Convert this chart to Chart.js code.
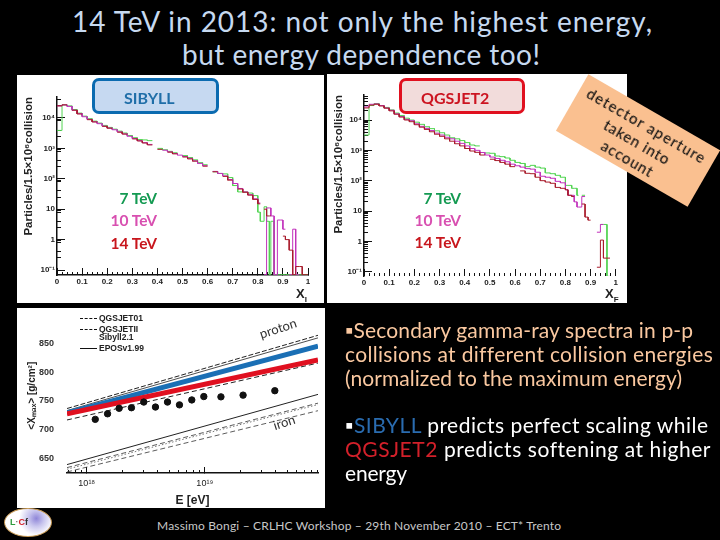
<!DOCTYPE html>
<html>
<head>
<meta charset="utf-8">
<script src="https://cdn.jsdelivr.net/npm/chart.js@4/dist/chart.umd.js"></script>
<style>
html, body { margin: 0; padding: 0; background: #000; }
body { position: relative; width: 720px; height: 540px; overflow: hidden; font-family: Lato, sans-serif; }
canvas { position: absolute; background: #fff; filter: blur(0.35px); }
.t { position: absolute; white-space: nowrap; line-height: 1; }
.title { color: #c6d9f0; font-size: 28px; }
.body1 { color: #fac8a0; font-size: 21px; left: 345px; }
.body2 { color: #fff; font-size: 21px; left: 345px; }
.box { position: absolute; box-sizing: border-box; border-radius: 7px; border-width: 3px; border-style: solid; top: 78px; height: 36px; }
.tag { font-family: Lato, sans-serif; font-weight: 700; font-size: 15.5px; text-align: right; }
.model { font-weight: 700; font-size: 16px; }
.plotlabel { font-family: "Liberation Sans", sans-serif; color: #222; font-weight: 700; }
.leg { font-family: "Liberation Sans", sans-serif; font-weight: 700; font-size: 8.5px; color: #222; }
.swatch { position: absolute; width: 17px; border-top: 1px dashed #111; }
#note { position: absolute; left: 562px; top: 108px; width: 152px; height: 65px; background: #fac090; transform: rotate(30deg); }
#note div { position: absolute; width: 100%; text-align: center; color: #111; font-size: 15px; font-weight: 500; line-height: 1; white-space: nowrap; }
#logo { position: absolute; left: 4px; top: 508px; width: 48px; height: 29px; box-sizing: border-box; border-radius: 50%; border: 1.5px solid #c79a55; background: radial-gradient(circle at 68% 35%, #8f86d8 0, #c9c6ee 22%, #fff 48%); font: 700 9px "Liberation Sans", sans-serif; line-height: 26px; padding-left: 5px; }
</style>
</head>
<body>
<div class="t title fit" data-w="580" style="left:72px;top:7px">14 TeV in 2013: not only the highest energy,</div>
<div class="t title fit" data-w="358" style="left:182px;top:40px">but energy dependence too!</div>

<canvas id="sibyllChart" width="307" height="228" style="left:17px;top:75px"></canvas>
<canvas id="qgsjetChart" width="300" height="229" style="left:327px;top:74px"></canvas>
<canvas id="xmaxChart" width="308" height="200" style="left:17px;top:308px"></canvas>

<div class="box" style="left:92px;width:127px;background:#c6d9f1;border-color:#0b6bb0"></div>
<div class="t model" style="left:124px;top:90px;color:#1f6ea8">SIBYLL</div>
<div class="box" style="left:399px;width:126px;background:#f2dcdb;border-color:#e0101f"></div>
<div class="t model" style="left:421px;top:90px;color:#cc1420">QGSJET2</div>

<div class="t tag" style="left:97px;width:60px;top:191px;color:#149a52">7 TeV</div>
<div class="t tag" style="left:97px;width:60px;top:213px;color:#d84fb0">10 TeV</div>
<div class="t tag" style="left:97px;width:60px;top:236px;color:#c8161d">14 TeV</div>
<div class="t tag" style="left:401px;width:60px;top:191px;color:#149a52">7 TeV</div>
<div class="t tag" style="left:401px;width:60px;top:213px;color:#d84fb0">10 TeV</div>
<div class="t tag" style="left:401px;width:60px;top:235px;color:#c8161d">14 TeV</div>

<div class="t plotlabel" style="left:296px;top:287px;font-size:13px">X<sub style="font-size:8px">I</sub></div>
<div class="t plotlabel" style="left:605px;top:287px;font-size:13px">X<sub style="font-size:8px">F</sub></div>

<div id="note">
  <div class="fit" data-w="134" style="top:8px;left:0">detector aperture</div>
  <div style="top:27px;left:0;letter-spacing:.8px">taken into</div>
  <div style="top:46px;left:0;letter-spacing:.8px">account</div>
</div>

<div class="swatch" style="left:80px;top:318px"></div>
<div class="swatch" style="left:80px;top:329px"></div>
<div class="swatch" style="left:80px;top:348px;border-top-style:solid"></div>
<div class="t leg" style="left:99px;top:314px">QGSJET01</div>
<div class="t leg" style="left:99px;top:325px">QGSJETII</div>
<div class="t leg" style="left:99px;top:333px">Sibyll2.1</div>
<div class="t leg" style="left:99px;top:344px">EPOSv1.99</div>
<div class="t" style="left:259px;top:322px;font-size:13px;color:#333;transform:rotate(-18deg)">proton</div>
<div class="t" style="left:273px;top:416px;font-size:13px;color:#333;transform:rotate(-18deg)">iron</div>

<div class="t body1 fit" data-w="348" style="top:319px">▪Secondary gamma-ray spectra in p-p</div>
<div class="t body1 fit" data-w="367" style="top:343px">collisions at different collision energies</div>
<div class="t body1 fit" data-w="337" style="top:367px">(normalized to the maximum energy)</div>
<div class="t body2 fit" data-w="363" style="top:414px">▪<span style="color:#2a6cb0">SIBYLL</span> predicts perfect scaling while</div>
<div class="t body2 fit" data-w="365" style="top:438px"><span style="color:#d3202a">QGSJET2</span> predicts softening at higher</div>
<div class="t body2 fit" data-w="62" style="top:462px">energy</div>
<div class="t fit" data-w="404" style="left:157px;top:520px;color:#c8c8c8;font-size:12px">Massimo Bongi – CRLHC Workshop – 29th November 2010 – ECT* Trento</div>

<div id="logo"><span style="color:#2e9a3c">L</span><span style="color:#777">·</span><span style="color:#d3202a">C</span><span style="color:#333">f</span></div>

<script>
// histogram bin edges shared by the two spectra
const binEdges = [0, 0.02, 0.04, 0.06, 0.08, 0.1, 0.12, 0.14, 0.16, 0.18, 0.2, 0.22, 0.24, 0.26, 0.28, 0.3, 0.32, 0.34, 0.36, 0.38,
    0.4, 0.42, 0.44, 0.46, 0.48, 0.5, 0.52, 0.54, 0.56, 0.58, 0.6, 0.62, 0.64, 0.66, 0.68, 0.7, 0.72, 0.74, 0.76, 0.78, 0.8,
    0.81, 0.825, 0.835, 0.846, 0.852, 0.865, 0.878, 0.89, 0.9, 0.91, 0.925, 0.939, 0.951, 0.965, 0.977, 1];

// SIBYLL (0.07 = empty bin, on the axis line)
const sibyll7 = [3900, 27000, 25000, 19000, 14500, 11500, 9500, 7900, 6800, 5700, 4900, 4300, 3700, 3200, 2650, 2250, 1950, 1900, 1800, null,
    1000, 900, 800, 720, null, 580, 500, 420, 340, 290, null, 170, 150, 145, 110, 60, 37, 37, 34, 28,
    8, 4, 12, 4, 0.07, 4, 0.07, 0.07, 0.07, 0.07, 0.07, 0.07, 0.07, 0.07, 0.07, 0.07];
const sibyll10 = [25000, 27000, 24000, 18000, 14000, 11000, 9000, 7500, 6500, 5400, 4700, 4100, 3500, 3000, 2500, 2100, 1800, 1550, 1350, null,
    null, 870, 770, 680, 600, 540, 470, 390, 320, 270, null, 175, 150, 125, 95, 70, 48, 37, 30, 22,
    16, null, 0.07, 11, 11, 6, 0.07, 4.4, 4.4, 2.2, null, 0.07, 2.2, 0.07, null, null];
const sibyll14 = [25000, 27000, null, 18000, 13500, null, 8800, 7400, null, 5300, 4600, null, 3400, 2950, null, 2050, 1750, 1500, 1300, null,
    930, null, 750, 660, null, 520, 450, 380, null, 260, null, 170, null, 120, 90, null, 46, 36, 29, 21,
    15, null, 10, 6, 6, null, null, null, null, 1.3, 1, 0.45, 0.07, 0.13, 0.13, 0.07];

// QGSJET2
const qgsjet7 = [3200, 30000, 35000, 30000, 26000, 21500, 17000, 14000, 11500, 10000, 8500, 7200, 6000, 5200, 4400, 3800, 3200, 2600, 2400, 2100,
    1800, 1500, 1400, null, 820, 800, 650, 620, 560, 470, 400, 370, 290, 320, 280, 260, 180, 170, 150, 130,
    70, 70, 56, 56, 33, null, 33, null, null, null, null, null, 3.6, 3.6, 0.07, null];
const qgsjet10 = [27000, 33000, 34000, 30000, 25000, 21000, 16000, 13000, 10500, 9500, 7500, 6200, 5300, 4500, 3700, 3200, 2700, 2400, 2000, 1700,
    1400, 1150, 1000, 850, 700, 600, 540, 470, 420, 350, 310, 280, 250, 240, 190, 140, 130, 120, 95, 85,
    50, 33, 33, 20, 13.5, 13.5, 30, null, null, null, null, 2, 3.6, null, null, null];
const qgsjet14 = [25000, 31000, 33000, 29000, 24500, 20000, 15500, 12500, 10000, 8800, 7000, 5800, 4900, 4100, 3400, 2900, 2400, 2000, 1650, 1400,
    1150, 950, 860, 700, null, 510, 460, 400, 350, 290, null, 210, 175, 170, 130, 100, 90, 82, 60, 56,
    50, 33, 30, null, null, null, 17, 6.3, 5, null, null, 0.14, 1.1, 0.28, 0.28, null];

// axis ticks of the spectra
const xMajor = [0, 0.1, 0.2, 0.3, 0.4, 0.5, 0.6, 0.7, 0.8, 0.9, 1];
const xMinor = [0.02, 0.04, 0.06, 0.08, 0.12, 0.14, 0.16, 0.18, 0.22, 0.24, 0.26, 0.28, 0.32, 0.34, 0.36, 0.38, 0.42, 0.44, 0.46, 0.48,
    0.52, 0.54, 0.56, 0.58, 0.62, 0.64, 0.66, 0.68, 0.72, 0.74, 0.76, 0.78, 0.82, 0.84, 0.86, 0.88, 0.92, 0.94, 0.96, 0.98];
const yMajor = [0.1, 1, 10, 100, 1000, 10000];
const yMajorLabels = ['10⁻¹', '1', '10', '10²', '10³', '10⁴'];
const yMinorSparse = [0.25, 0.4, 0.8, 0.9, 2.5, 4, 8, 9, 25, 40, 80, 90, 250, 400, 800, 900, 2500, 4000, 8000, 9000, 25000, 40000];
const yMinorFull = [0.2, 0.3, 0.4, 0.5, 0.6, 0.7, 0.8, 0.9, 2, 3, 4, 5, 6, 7, 8, 9, 20, 30, 40, 50, 60, 70, 80, 90, 200, 300, 400, 500, 600, 700, 800, 900,
    2000, 3000, 4000, 5000, 6000, 7000, 8000, 9000, 20000, 30000, 40000, 50000, 60000];

// Xmax panel
const lineEnergy = [6.8e17, 9.1e19];
const protonDash = [736.6, 864.5];
const protonSolid = [733, 860];
const protonLow = [716.6, 816];
const sibyllBand = [729, 845.7];
const qgsjetBand = [727.4, 821.5];
const ironSolid = [638.7, 761.3];
const ironDash = [633.4, 746];
const ironDot = [630.6, 743.5];
const ironLow = [625.8, 732.8];
const dataEnergy = [1.18e18, 1.5e18, 1.88e18, 2.39e18, 3.04e18, 3.82e18, 4.83e18, 6.1e18, 7.76e18, 9.81e18, 1.37e19, 2.11e19, 3.92e19];
const dataXmax = [717.7, 727.4, 737, 738, 747.9, 739.2, 747.9, 743, 751.6, 757.5, 757, 760, 767.7];
const xmaxTicks = [650, 700, 750, 800, 850];
const energyMajor = [1e18, 1e19];
const energyLabels = ['10¹⁸', '10¹⁹'];
const energyMinor = [7e17, 8e17, 9e17, 2e18, 3e18, 4e18, 5e18, 6e18, 7e18, 8e18, 9e18, 2e19, 3e19, 4e19, 5e19, 6e19, 7e19, 8e19, 9e19];

Chart.defaults.font.family = '"Liberation Sans", sans-serif';
Chart.defaults.animation = false;

// двойни точки за всеки бин, за да остане хистограма; null дава прекъсване
function histPoints(values) {
    const points = [];
    values.forEach((v, i) => {
        points.push({ x: binEdges[i], y: v });
        points.push({ x: binEdges[i + 1], y: v });
    });
    return points;
}

function setTicks(list) {
    return scale => { scale.ticks = list.map(v => ({ value: v })); };
}

function hiddenAxis(position, list, tickLength, weight, fit) {
    return {
        type: position === 'left' ? 'logarithmic' : 'linear',
        position: position,
        weight: weight,
        display: true,
        border: { display: false },
        grid: { drawOnChartArea: false, tickLength: tickLength, color: '#111', lineWidth: 1 },
        ticks: { display: false },
        afterBuildTicks: setTicks(list),
        afterFit: fit
    };
}

function spectrumChart(id, green, magenta, red, box, yMinorTicks, showXLine) {
    const ctx = document.getElementById(id).getContext('2d');
    const series = (label, values, color) => ({
        label: label, data: histPoints(values), borderColor: color, borderWidth: 1,
        pointRadius: 0, spanGaps: false, tension: 0
    });
    return new Chart(ctx, {
        type: 'line',
        data: {
            datasets: [
                series('14 TeV', red, '#a81c2c'),
                series('10 TeV', magenta, '#c232bc'),
                series('7 TeV', green, '#52d452')
            ]
        },
        options: {
            responsive: false,
            layout: { padding: { top: box.top, right: box.right, left: 0, bottom: 0 } },
            plugins: { legend: { display: false }, tooltip: { enabled: false } },
            scales: {
                x: {
                    type: 'linear', min: 0, max: 1, position: 'bottom', weight: 2,
                    border: { display: showXLine, color: '#111', width: 1.5 },
                    grid: { drawOnChartArea: false, tickLength: -7, color: '#111' },
                    ticks: {
                        autoSkip: false, minRotation: 0, maxRotation: 0, padding: 9, color: '#222',
                        font: { size: 8, weight: 'bold' },
                        callback: v => String(v)
                    },
                    afterBuildTicks: setTicks(xMajor),
                    afterFit: s => { s.height = box.bottom; }
                },
                xMinor: Object.assign(hiddenAxis('bottom', xMinor, -3, 1, s => { s.height = 0; }), { min: 0, max: 1 }),
                y: {
                    type: 'logarithmic', min: box.yMin, max: box.yMax, position: 'left', weight: 2,
                    border: { color: '#111', width: 1.5 },
                    grid: { drawOnChartArea: false, tickLength: -8, color: '#111' },
                    title: {
                        display: true, text: 'Particles/1.5×10⁶collision', color: '#222', align: 'end',
                        padding: { top: 5, bottom: 0 },
                        font: { size: 11.5, weight: 'bold' }
                    },
                    ticks: {
                        autoSkip: false, minRotation: 0, maxRotation: 0, padding: 10, color: '#222',
                        font: { size: 8, weight: 'bold' },
                        callback: (v, i) => yMajorLabels[i]
                    },
                    afterBuildTicks: setTicks(yMajor),
                    afterFit: s => { s.width = box.left; }
                },
                yMinor: Object.assign(hiddenAxis('left', yMinorTicks, -4, 1, s => { s.width = 0; }), { min: box.yMin, max: box.yMax })
            }
        }
    });
}

spectrumChart('sibyllChart', sibyll7, sibyll10, sibyll14,
    { top: 22, right: 16, left: 40, bottom: 28, yMin: 0.0685, yMax: 49000 }, yMinorSparse, true);
spectrumChart('qgsjetChart', qgsjet7, qgsjet10, qgsjet14,
    { top: 21, right: 10, left: 37, bottom: 27, yMin: 0.072, yMax: 66800 }, yMinorFull, false);

// Xmax
function straight(values, color, width, dash) {
    return {
        data: values.map((v, i) => ({ x: lineEnergy[i], y: v })),
        borderColor: color, borderWidth: width, borderDash: dash, pointRadius: 0, showLine: true, tension: 0
    };
}

new Chart(document.getElementById('xmaxChart').getContext('2d'), {
    type: 'scatter',
    data: {
        datasets: [
            {
                data: dataEnergy.map((e, i) => ({ x: e, y: dataXmax[i] })),
                backgroundColor: '#111', borderColor: '#111', pointRadius: 3.2
            },
            straight(qgsjetBand, '#e01020', 5, []),
            straight(sibyllBand, '#1a6fb5', 5, []),
            straight(protonDash, '#222', 1, [5, 2]),
            straight(protonSolid, '#222', 0.8, []),
            straight(protonLow, '#222', 1, [5, 3]),
            straight(ironSolid, '#222', 1, []),
            straight(ironDash, '#333', 0.8, [5, 3]),
            straight(ironDot, '#555', 0.8, [1.5, 2]),
            straight(ironLow, '#333', 0.8, [5, 3])
        ]
    },
    options: {
        responsive: false,
        layout: { padding: { top: 0, right: 7, left: 0, bottom: 0 } },
        plugins: { legend: { display: false }, tooltip: { enabled: false } },
        scales: {
            x: {
                type: 'logarithmic', min: 6.8e17, max: 9.1e19, position: 'bottom', weight: 2,
                border: { color: '#111', width: 1.5 },
                grid: { drawOnChartArea: false, tickLength: -6, color: '#111' },
                title: {
                    display: true, text: 'E [eV]', color: '#222', padding: { top: 4, bottom: 0 },
                    font: { size: 12, weight: 'bold' }
                },
                ticks: {
                    autoSkip: false, minRotation: 0, maxRotation: 0, padding: 11, color: '#222',
                    font: { size: 9 },
                    callback: (v, i) => energyLabels[i]
                },
                afterBuildTicks: setTicks(energyMajor),
                afterFit: s => { s.height = 35; }
            },
            xMinor: {
                type: 'logarithmic', min: 6.8e17, max: 9.1e19, position: 'bottom', weight: 1,
                border: { display: false },
                grid: { drawOnChartArea: false, tickLength: -3, color: '#111' },
                ticks: { display: false },
                afterBuildTicks: setTicks(energyMinor),
                afterFit: s => { s.height = 0; }
            },
            y: {
                type: 'linear', min: 624, max: 894, position: 'left',
                border: { display: false },
                grid: { display: false },
                title: {
                    display: true, text: '<Xₘₐₓ> [g/cm²]', color: '#222', padding: { top: 9, bottom: 0 },
                    font: { size: 10, weight: 'bold' }
                },
                ticks: {
                    autoSkip: false, padding: 5, color: '#333',
                    font: { size: 9, weight: 'bold' }
                },
                afterBuildTicks: setTicks(xmaxTicks),
                afterFit: s => { s.width = 50; }
            }
        }
    }
});

// разтягане на текста до ширината в оригинала
document.querySelectorAll('.fit').forEach(el => {
    const target = Number(el.dataset.w);
    const probe = document.createElement('span');
    probe.style.cssText = 'visibility:hidden;position:absolute;white-space:nowrap;font:' + getComputedStyle(el).font;
    probe.innerHTML = el.innerHTML;
    document.body.appendChild(probe);
    const w = probe.getBoundingClientRect().width;
    probe.remove();
    el.style.letterSpacing = ((target - w) / (el.textContent.length - 1)).toFixed(3) + 'px';
});
</script>
</body>
</html>
